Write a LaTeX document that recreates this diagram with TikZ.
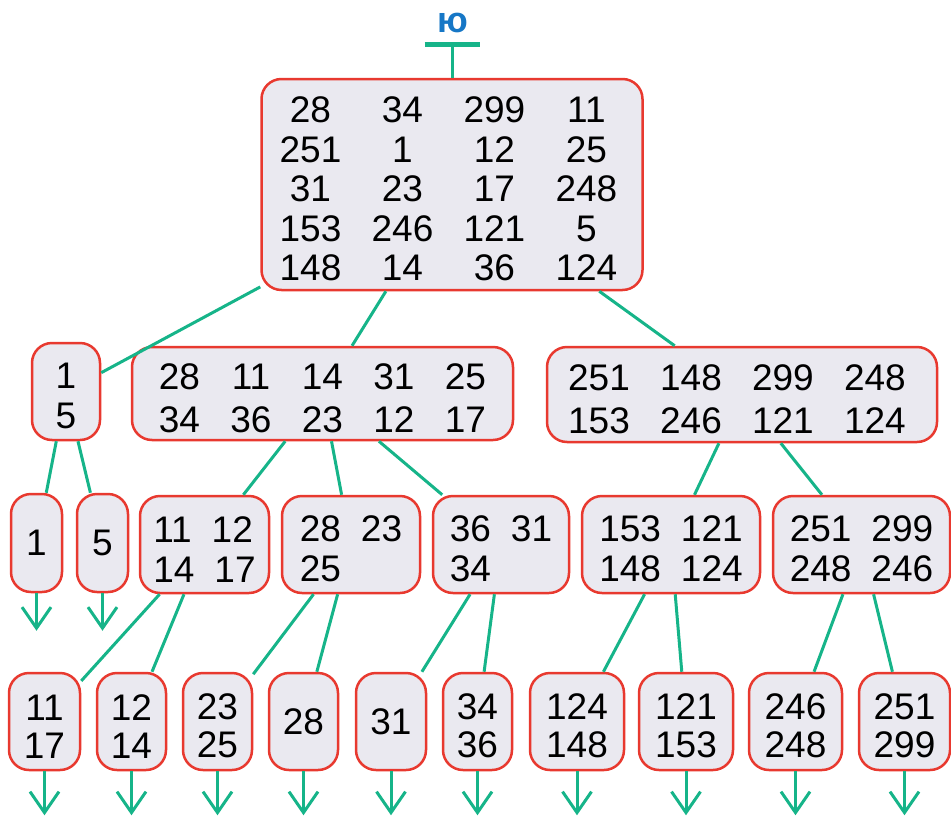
\documentclass[tikz,border=0pt]{standalone}
\usepackage{fontspec}
\setmainfont{Liberation Sans}
\usetikzlibrary{arrows.meta}
\definecolor{boxred}{HTML}{E8392F}
\definecolor{boxfill}{HTML}{EAE9F0}
\definecolor{edgegreen}{HTML}{16B489}
\definecolor{lblue}{HTML}{1677C6}
\newcommand\colA[1]{\makebox[92pt]{#1}}
\newcommand\colB[1]{\makebox[71.5pt]{#1}}
\newcommand\gapp{\hspace{20pt}}
\newcommand\lowr{\rule{0pt}{35pt}}
\begin{document}
\begin{tikzpicture}[x=1pt,y=-1pt,
  box/.style={draw=boxred, line width=2.5pt, fill=boxfill, rounded corners=20pt,
    inner sep=0pt, align=center, text=black},
  ftA/.style={font=\fontsize{37}{39.5}\selectfont},
  ftB/.style={font=\fontsize{37}{43}\selectfont},
  ftC/.style={font=\fontsize{37}{40}\selectfont},
  ftD/.style={font=\fontsize{37}{38}\selectfont},
  edge/.style={draw=edgegreen, line width=3pt},
  arr/.style={draw=edgegreen, line width=3pt, -{Straight Barb[length=21pt,width=29pt]}}
]
\useasboundingbox (0,0) rectangle (951,817);

% root
\node[box, ftA, minimum width=381pt, minimum height=211pt] (root) at (452,184.5)
 {\lowr\colA{28}\colA{34}\colA{299}\colA{11}\makebox[7pt]{}\\
  \colA{251}\colA{1}\colA{12}\colA{25}\makebox[7pt]{}\\
  \colA{31}\colA{23}\colA{17}\colA{248}\makebox[7pt]{}\\
  \colA{153}\colA{246}\colA{121}\colA{5}\makebox[7pt]{}\\
  \colA{148}\colA{14}\colA{36}\colA{124}\makebox[7pt]{}};

\coordinate (tb) at (452,42);
\draw[edge, {Bar[width=55pt,line width=5pt]}-] (tb) -- (root);
\node[font=\bfseries\fontsize{36}{36}\selectfont, text=lblue, inner sep=0pt] (lab) at (453,23) {ю};

% level 2
\node[box, ftC, minimum width=68pt, minimum height=97pt] (A) at (66,391.5) {\lowr 1\\5};
\node[box, ftB, minimum width=381pt, minimum height=93pt] (B) at (322.5,393.5)
 {\lowr\colB{28}\colB{11}\colB{14}\colB{31}\colB{25}\\
  \colB{34}\colB{36}\colB{23}\colB{12}\colB{17}};
\node[box, ftB, minimum width=390pt, minimum height=95pt] (C) at (742,394.5)
 {\lowr\colA{251}\colA{148}\colA{299}\colA{248}\makebox[10pt]{}\\
  \colA{153}\colA{246}\colA{121}\colA{124}\makebox[10pt]{}};

% level 3
\node[box, ftC, minimum width=51pt, minimum height=98pt] (l1) at (36.5,543) {1};
\node[box, ftC, minimum width=51pt, minimum height=98pt] (l5) at (102.5,543) {5};
\node[box, ftC, align=left, minimum width=129pt, minimum height=97pt] (m1) at (204.5,544.5) {\lowr 11\gapp 12\\14\gapp 17};
\node[box, ftC, align=left, minimum width=138pt, minimum height=97pt] (m2) at (351,544.5) {\lowr 28\gapp 23\\25};
\node[box, ftC, align=left, minimum width=136pt, minimum height=97pt] (m3) at (501,544.5) {\lowr 36\gapp 31\\34};
\node[box, ftC, align=left, minimum width=178pt, minimum height=97pt] (m4) at (671,544.5) {\lowr 153\gapp 121\\148\gapp 124};
\node[box, ftC, align=left, minimum width=177pt, minimum height=97pt] (m5) at (861.5,544.5) {\lowr 251\gapp 299\\248\gapp 246};

% level 4
\node[box, ftD, minimum width=71pt, minimum height=97pt] (n1) at (44.5,721.5) {\lowr 11\\17};
\node[box, ftD, minimum width=69pt, minimum height=97pt] (n2) at (131.5,721.5) {\lowr 12\\14};
\node[box, ftD, minimum width=69pt, minimum height=97pt] (n3) at (217.5,721.5) {\lowr 23\\25};
\node[box, ftD, minimum width=69pt, minimum height=97pt] (n4) at (303.5,721.5) {28};
\node[box, ftD, minimum width=70pt, minimum height=97pt] (n5) at (391,721.5) {31};
\node[box, ftD, minimum width=69pt, minimum height=97pt] (n6) at (477.5,721.5) {\lowr 34\\36};
\node[box, ftD, minimum width=94pt, minimum height=97pt] (n7) at (577,721.5) {\lowr 124\\148};
\node[box, ftD, minimum width=94pt, minimum height=97pt] (n8) at (686,721.5) {\lowr 121\\153};
\node[box, ftD, minimum width=93pt, minimum height=97pt] (n9) at (795.5,721.5) {\lowr 246\\248};
\node[box, ftD, minimum width=91pt, minimum height=97pt] (n10) at (904.5,721.5) {\lowr 251\\299};

% edges
\draw[edge] (root) -- (A);
\draw[edge] (root) -- (B);
\draw[edge] (root) -- (C);
\draw[edge] (A) -- (l1);
\draw[edge] (A) -- (l5);
\draw[edge] (B) -- (m1);
\draw[edge] (B) -- (m2);
\draw[edge] (B) -- (m3);
\draw[edge] (C) -- (m4);
\draw[edge] (C) -- (m5);
\draw[edge] (m1) -- (n1);
\draw[edge] (m1) -- (n2);
\draw[edge] (m2) -- (n3);
\draw[edge] (m2) -- (n4);
\draw[edge] (m3) -- (n5);
\draw[edge] (m3) -- (n6);
\draw[edge] (m4) -- (n7);
\draw[edge] (m4) -- (n8);
\draw[edge] (m5) -- (n9);
\draw[edge] (m5) -- (n10);

% leaf arrows
\foreach \n in {l1,l5} {
  \path (\n.south) ++(0,37.5) coordinate (\n-tip);
  \draw[arr] (\n) -- (\n-tip);
}
\foreach \n in {n1,n2,n3,n4,n5,n6,n7,n8,n9,n10} {
  \path (\n.south) ++(0,44) coordinate (\n-tip);
  \draw[arr] (\n) -- (\n-tip);
}
\end{tikzpicture}
\end{document}
